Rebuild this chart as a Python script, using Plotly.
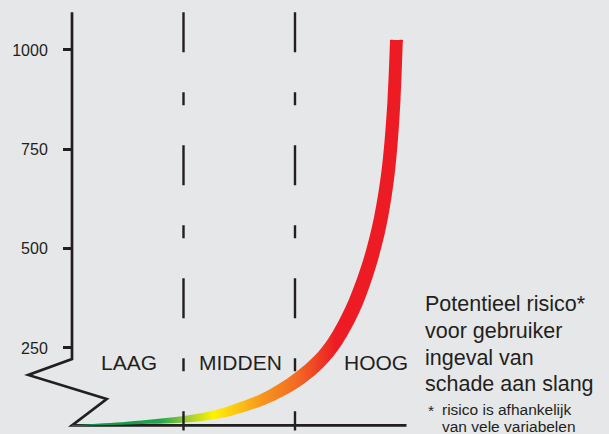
import numpy as np
import plotly.graph_objects as go

# ---------------- data ----------------
categories = ["LAAG", "MIDDEN", "HOOG"]
category_bounds = [1, 2]          # borders between the risk zones (x units)
x_axis_end = 3                    # end of the HOOG zone
y_tick_values = [250, 500, 750, 1000]
y_tick_text = ["250", "500", "750", "1000"]

# centre line of the risk curve
risk_x = [0, 0.493, 1.004, 1.265, 1.417, 1.713, 1.865, 2.045, 2.224, 2.350,
          2.511, 2.623, 2.700, 2.771, 2.840, 2.888, 2.910]
risk_y = [55, 61, 70.5, 81.3, 91.4, 120.8, 142.2, 174.9, 218.7, 262.2,
          344.0, 423.6, 493.5, 577.6, 704.4, 873.8, 1025]

note_lines = ["Potentieel risico*", "voor gebruiker", "ingeval van", "schade aan slang"]
footnote_star = "*"
footnote_lines = ["risico is afhankelijk", "van vele variabelen"]

# ---------------- style / layout ----------------
W, H = 609, 434
BG = "#e6e7e8"
INK = "#231f20"
FONT = "Liberation Sans, Arial, Helvetica, sans-serif"

X0_PX, X_UNIT = 72.0, 111.5          # pixel of x=0, pixels per x unit
Y0_PX, Y_UNIT = 447.3, 298.0 / 750   # pixel of y=0, pixels per y unit

x_range = [(0 - X0_PX) / X_UNIT, (W - X0_PX) / X_UNIT]
y_range = [(Y0_PX - H) / Y_UNIT, Y0_PX / Y_UNIT]

# band thickness (half width, px) along the curve, keyed on x
band_w_at_x = [0, 0.49, 1.0, 1.27, 1.42, 1.71, 2.03, 2.5, 2.8, 2.91]
band_half_w = [0.4, 1.4, 3.3, 4.3, 5.0, 5.8, 7.0, 7.4, 6.9, 6.4]


def to_px(x, y):
    return X0_PX + np.asarray(x) * X_UNIT, Y0_PX - np.asarray(y) * Y_UNIT


def from_px(px, py):
    return (np.asarray(px) - X0_PX) / X_UNIT, (Y0_PX - np.asarray(py)) / Y_UNIT


def fx(px):
    return px / W


def fy(py):
    return 1 - py / H


# ---- outline of the tapered band around the centre line (pixel space) ----
cx, cy = to_px(risk_x, risk_y)
tx, ty = np.gradient(cx), np.gradient(cy)
nrm = np.hypot(tx, ty)
tux, tuy = tx / nrm, ty / nrm
nx, ny = tuy.copy(), -tux.copy()
nx[-1], ny[-1] = -1.0, 0.0                      # flat top cap
half_w = np.interp(risk_x, band_w_at_x, band_half_w)
up_x, up_y = cx + nx * half_w, cy + ny * half_w   # inner / upper-left edge
lo_x, lo_y = cx - nx * half_w, cy - ny * half_w   # outer / lower-right edge
# short guide points just below the cap keep its corners crisp
g = 2.0
lo_gx, lo_gy = lo_x[-1] - tux[-1] * g, lo_y[-1] - tuy[-1] * g
up_gx, up_gy = up_x[-1] - tux[-1] * g, up_y[-1] - tuy[-1] * g
poly_px_x = np.concatenate([lo_x[:-1], [lo_gx, lo_x[-1], cx[-1], up_x[-1], up_gx], up_x[-2::-1]])
poly_px_y = np.concatenate([lo_y[:-1], [lo_gy, lo_y[-1], cy[-1], up_y[-1], up_gy], up_y[-2::-1]])
band_x, band_y = from_px(poly_px_x, poly_px_y)

grad_stops = [
    [0.000, "#00934a"],
    [0.263, "#22a54a"],
    [0.333, "#8dc63f"],
    [0.422, "#fff200"],
    [0.502, "#fcbf16"],
    [0.571, "#f7941d"],
    [0.673, "#f26a24"],
    [0.741, "#ef3b24"],
    [0.787, "#ed1c24"],
    [1.000, "#ed1c24"],
]

fig = go.Figure()
fig.add_trace(go.Scatter(
    x=band_x, y=band_y, mode="lines", fill="toself",
    line=dict(width=0, shape="spline", smoothing=1.0, color="rgba(0,0,0,0)"),
    fillgradient=dict(type="horizontal", colorscale=grad_stops, start=0, stop=x_axis_end),
    hoverinfo="skip", showlegend=False,
))

# ---- axes drawn as shapes (broken y axis + baseline) ----
y_top = from_px(0, 12.3)[1]
y_base = risk_y[0]
zz = [from_px(px, py) for px, py in [(72, 359), (28.3, 375), (106.7, 399)]]
path = (f"M 0,{y_top} L 0,{zz[0][1]} L {zz[1][0]},{zz[1][1]} "
        f"L {zz[2][0]},{zz[2][1]} L 0,{y_base} L {x_axis_end},{y_base}")
shapes = [dict(type="path", path=path, xref="x", yref="y",
               line=dict(color=INK, width=2.7), layer="below")]

y_dash_bottom = from_px(0, 430.5)[1]
for b in category_bounds:
    shapes.append(dict(type="line", xref="x", yref="y", x0=b, x1=b,
                       y0=y_top, y1=y_dash_bottom,
                       line=dict(color=INK, width=2.4, dash="40px,40px,13px,40px"),
                       layer="above"))

# ---- text ----
annotations = []
label_px_x = [128.5, 240.8, 375.5]
for lab, px in zip(categories, label_px_x):
    annotations.append(dict(text=lab, x=fx(px), y=fy(362.5), xref="paper", yref="paper",
                            xanchor="center", yanchor="middle", showarrow=False,
                            font=dict(size=21, color=INK, family=FONT)))

for i, line in enumerate(note_lines):
    base = 311.7 + i * 26.67
    annotations.append(dict(text=line, x=fx(423), y=fy(base - 7.5), xref="paper", yref="paper",
                            xanchor="left", yanchor="middle", showarrow=False,
                            font=dict(size=21.5, color=INK, family=FONT)))

annotations.append(dict(text=footnote_star, x=fx(425.5), y=fy(410), xref="paper", yref="paper",
                        xanchor="left", yanchor="middle", showarrow=False,
                        font=dict(size=15.5, color=INK, family=FONT)))
for i, line in enumerate(footnote_lines):
    base = 414.5 + i * 17.5
    annotations.append(dict(text=line, x=fx(440.5), y=fy(base - 5.5), xref="paper", yref="paper",
                            xanchor="left", yanchor="middle", showarrow=False,
                            font=dict(size=15.5, color=INK, family=FONT)))

fig.update_layout(
    width=W, height=H,
    margin=dict(l=0, r=0, t=0, b=0, pad=0),
    paper_bgcolor=BG, plot_bgcolor=BG,
    showlegend=False,
    xaxis=dict(range=x_range, visible=False, fixedrange=True),
    yaxis=dict(range=y_range, anchor="free", position=X0_PX / W,
               showline=False, showgrid=False, zeroline=False,
               ticks="outside", ticklen=9, tickwidth=2.6, tickcolor=INK,
               tickvals=y_tick_values, ticktext=y_tick_text,
               tickfont=dict(size=16, color=INK, family=FONT),
               ticklabelstandoff=12, automargin=False, fixedrange=True),
    shapes=shapes,
    annotations=annotations,
)

fig.write_html("out.html", config={"displayModeBar": False},
               post_script="document.body.style.margin='0';document.body.style.background='%s';" % BG)
